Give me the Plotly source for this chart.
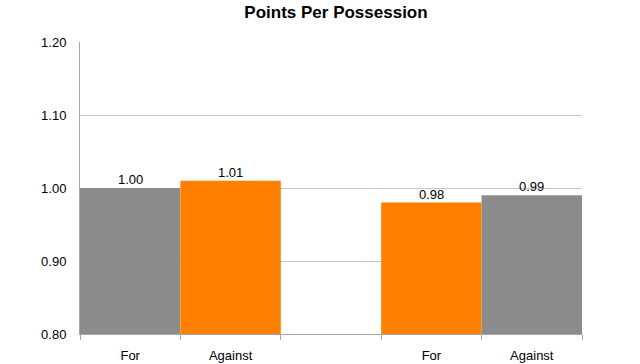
import plotly.graph_objects as go

categories = ["For", "Against", "", "For", "Against"]
values = [1.00, 1.01, None, 0.98, 0.99]
bar_colors = ["#8c8c8c", "#ff7f00", "#ffffff", "#ff7f00", "#8c8c8c"]
y_ticks = [0.80, 0.90, 1.00, 1.10, 1.20]

xs = list(range(len(categories)))
FONT = "Liberation Sans, Arial, sans-serif"

W, H = 640, 364

fig = go.Figure(go.Bar(
    x=xs, y=values, width=1.0,
    marker=dict(color=bar_colors, line=dict(width=0)),
    cliponaxis=False, hoverinfo="skip",
))

for x, v in zip(xs, values):
    if v is None:
        continue
    fig.add_annotation(x=x, y=v, xref="x", yref="y", text=f"{v:.2f}",
                       showarrow=False, yanchor="bottom", yshift=-1,
                       font=dict(family=FONT, size=13, color="#000000"))

fig.update_layout(
    width=W, height=H,
    margin=dict(l=80, r=58, t=42, b=30),
    paper_bgcolor="white", plot_bgcolor="white",
    showlegend=False,
    font=dict(family=FONT, color="#000000"),
    title=dict(text="<b>Points Per Possession</b>", x=336 / W, xref="container",
               xanchor="center", y=1 - 12 / H, yref="container", yanchor="middle",
               font=dict(size=17, color="#000000")),
)

fig.update_xaxes(
    range=[-0.5, 4.5], automargin=False,
    tickvals=xs, ticktext=categories,
    ticks="", showgrid=False,
    showline=True, linecolor="#a6a6a6", linewidth=1,
    tickfont=dict(size=13, color="#000000"),
    ticklabelstandoff=9,
    minor=dict(tick0=-0.5, dtick=1, ticks="outside", ticklen=5,
               tickcolor="#a6a6a6", showgrid=False),
    zeroline=False,
)

fig.update_yaxes(
    range=[0.80, 1.20], automargin=False,
    tickvals=y_ticks, ticktext=[f"{v:.2f}" for v in y_ticks],
    ticks="", showgrid=True, gridcolor="#c4c4c4", gridwidth=1,
    showline=True, linecolor="#a6a6a6", linewidth=1,
    tickfont=dict(size=13, color="#000000"),
    ticklabelstandoff=10,
    zeroline=False,
)

fig.write_html("out.html",
               config={"displayModeBar": False, "staticPlot": True},
               post_script="document.body.style.margin='0';document.body.style.overflow='hidden';")
